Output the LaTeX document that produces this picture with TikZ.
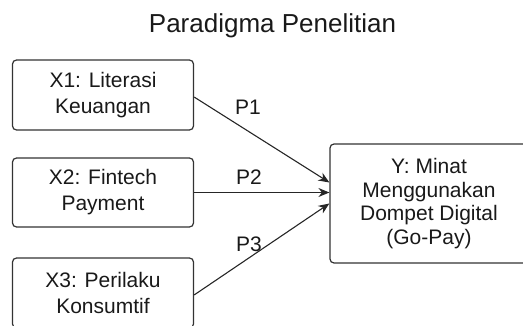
\documentclass[tikz,border=0pt]{standalone}
\usepackage{fontspec}
\setmainfont{Liberation Sans}
\usetikzlibrary{calc,arrows.meta}

\begin{document}
\begin{tikzpicture}[x=1pt,y=1pt,
    varbox/.style={draw=black!80, line width=1.2pt, rounded corners=4pt, align=center,
        text=black!90, font=\fontsize{21}{26}\selectfont, inner sep=0pt},
    path/.style={draw=black!85, line width=1.1pt, -{Stealth[length=11pt,width=9pt]}},
    plabel/.style={text=black!90, font=\fontsize{21}{24}\selectfont}]
    \useasboundingbox (0,0) rectangle (523,325);
    \clip (0,0) rectangle (523,325);

    % title
    \node[anchor=base, text=black!90, font=\fontsize{26}{30}\selectfont] (title) at (272.5,293) {Paradigma Penelitian};

    % variables
    \node[varbox, minimum width=181pt, minimum height=70pt] (x1) at (103,230) {X1: Literasi\\Keuangan};
    \node[varbox, minimum width=181pt, minimum height=69pt] (x2) at (103,132.5) {X2: Fintech\\Payment};
    \node[varbox, minimum width=181pt, minimum height=70pt] (x3) at (103,32) {X3: Perilaku\\Konsumtif};
    \node[varbox, minimum width=198pt, minimum height=119pt, font=\fontsize{21}{23.5}\selectfont] (y) at (429,121.5)
        {Y: Minat\\Menggunakan\\Dompet Digital\\(Go-Pay)};

    % arrow ends on Y
    \coordinate (y1) at ($(y.west)+(0,21)$);
    \coordinate (y2) at ($(y.west)+(0,11)$);
    \coordinate (y3) at ($(y.west)+(0,0)$);

    \draw[path] ($(x1.east)+(0,-2)$) -- (y1);
    \draw[path] (x2.east) -- (y2);
    \draw[path] ($(x3.east)+(0,-2)$) -- (y3);

    % path labels
    \node[plabel] (p1) at (248,218) {P1};
    \node[plabel] (p2) at (249,148) {P2};
    \node[plabel] (p3) at (249,81) {P3};
\end{tikzpicture}
\end{document}
